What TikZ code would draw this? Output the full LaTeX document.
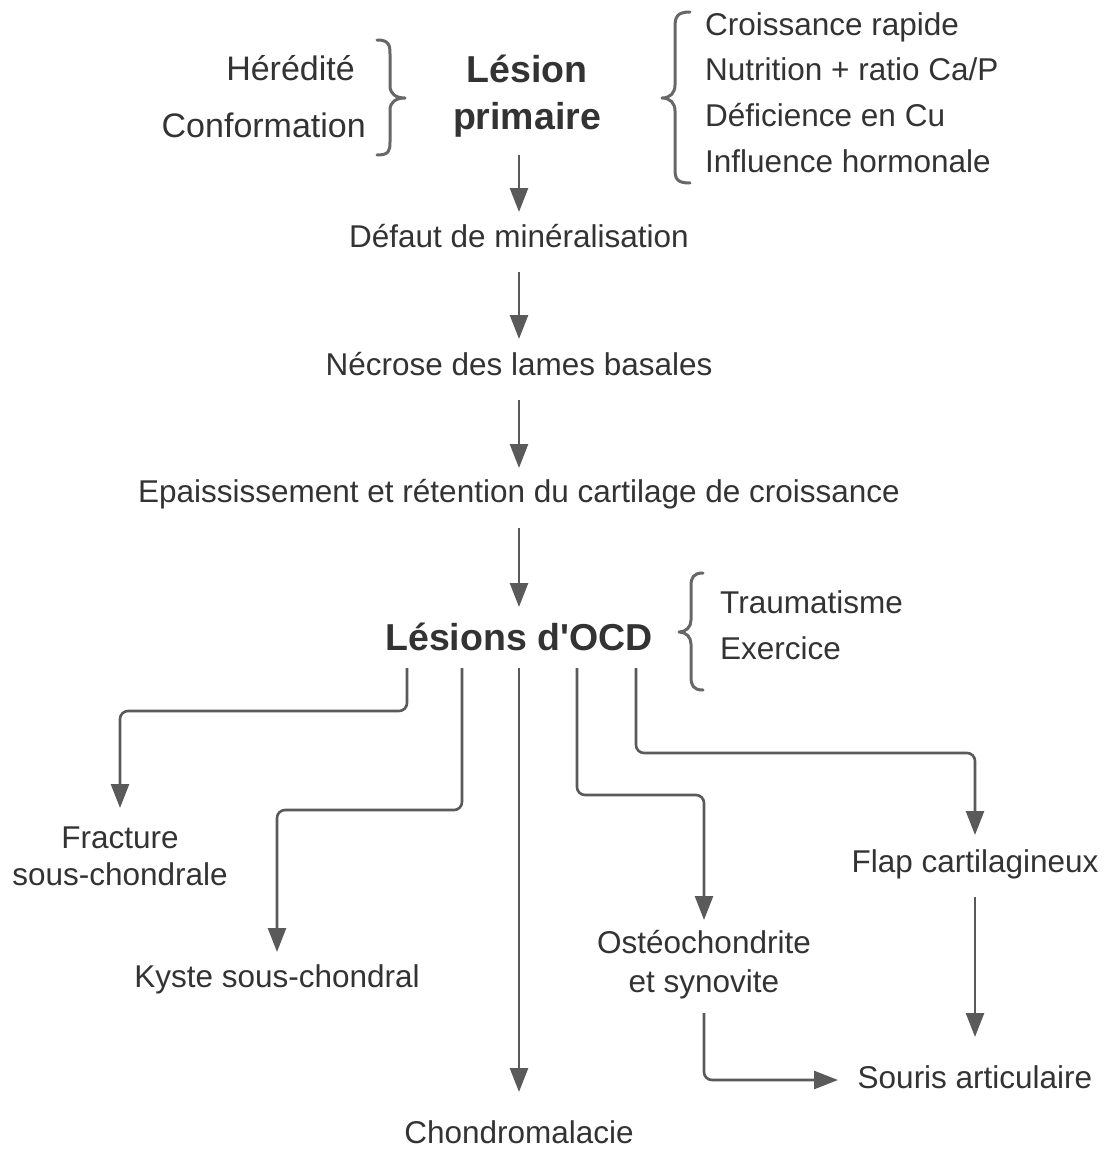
\documentclass[tikz,border=0pt]{standalone}
\usepackage{fontspec}
\setmainfont{Liberation Sans}[Ligatures=TeXOff]
\usetikzlibrary{arrows.meta,calc}
\definecolor{txtc}{HTML}{333333}
\definecolor{linec}{HTML}{5A5A5A}
\definecolor{bracec}{HTML}{676767}
\newcommand{\mlc}[1]{\begin{tabular}[t]{@{}c@{}}#1\end{tabular}}
\newcommand{\mll}[1]{\begin{tabular}[t]{@{}l@{}}#1\end{tabular}}
\tikzset{
  txt/.style={inner sep=0pt, text=txtc, font=\fontsize{31.5}{38}\selectfont},
  bigtxt/.style={inner sep=0pt, text=txtc, font=\fontsize{34}{40}\selectfont},
  boldtxt/.style={inner sep=0pt, text=txtc, font=\fontsize{37.5}{47}\selectfont\bfseries},
  arr/.style={draw=linec, line width=2.6pt, rounded corners=8pt, -{Triangle[length=24pt,width=18pt]}},
  bracestyle/.style={draw=bracec, line width=3pt, line cap=round, line join=round}
}
\begin{document}
\begin{tikzpicture}[x=1pt,y=-1pt]
\useasboundingbox (0,0) rectangle (1105,1149);
\fill[white] (0,0) rectangle (1105,1149);

% text nodes
\node[bigtxt, anchor=base east] (hered) at (355,80) {Hérédité};
\node[bigtxt, anchor=base east] (conf) at (366,137) {Conformation};
\node[boldtxt, anchor=base] (lesion) at (527,82) {\mlc{Lésion\\primaire}};
\node[txt, font=\fontsize{31.5}{45.67}\selectfont, anchor=base west] (facts) at (705,35)
  {\mll{Croissance rapide\\Nutrition + ratio Ca/P\\Déficience en Cu\\Influence hormonale}};
\node[txt, anchor=base] (defaut) at (519,247) {Défaut de minéralisation};
\node[txt, anchor=base] (necrose) at (519,375) {Nécrose des lames basales};
\node[txt, anchor=base] (epais) at (519,502) {Epaississement et rétention du cartilage de croissance};
\node[boldtxt, anchor=base] (ocd) at (519,650) {Lésions d'OCD};
\node[txt, font=\fontsize{31.5}{46}\selectfont, anchor=base west] (trauma) at (720,613) {\mll{Traumatisme\\Exercice}};
\node[txt, font=\fontsize{31.5}{37}\selectfont, anchor=base] (frac) at (120,848) {\mlc{Fracture\\sous-chondrale}};
\node[txt, anchor=base] (kyste) at (277,987) {Kyste sous-chondral};
\node[txt, anchor=base] (chondro) at (519,1143) {Chondromalacie};
\node[txt, font=\fontsize{31.5}{39}\selectfont, anchor=base] (osteo) at (704,953) {\mlc{Ostéochondrite\\et synovite}};
\node[txt, anchor=base] (flap) at (975,872) {Flap cartilagineux};
\node[txt, anchor=base] (souris) at (975,1088) {Souris articulaire};

% braces
\draw[bracestyle] (377,40) .. controls (389,40) and (390,45) .. (390,54) -- (390,86)
  .. controls (390,94) and (396,98) .. (405,98)
  .. controls (396,98) and (390,102) .. (390,110) -- (390,142)
  .. controls (390,151) and (389,155) .. (377,155);
\draw[bracestyle] (690,12) .. controls (677,12) and (675,17) .. (675,27) -- (675,85)
  .. controls (675,93) and (670,98) .. (662,98)
  .. controls (670,98) and (675,103) .. (675,111) -- (675,169)
  .. controls (675,179) and (677,183) .. (690,183);
\draw[bracestyle] (703,573) .. controls (693,573) and (691,578) .. (691,586) -- (691,620)
  .. controls (691,627) and (686,632) .. (679,632)
  .. controls (686,632) and (691,637) .. (691,644) -- (691,677)
  .. controls (691,685) and (693,690) .. (703,690);

% main chain
\draw[arr] ($(lesion.base)+(-8,73)$) -- ($(defaut.base)+(0,-35)$);
\draw[arr] ($(defaut.base)+(0,25)$) -- ($(necrose.base)+(0,-36)$);
\draw[arr] ($(necrose.base)+(0,25)$) -- ($(epais.base)+(0,-34)$);
\draw[arr] ($(epais.base)+(0,26)$) -- ($(ocd.base)+(0,-43)$);

% branches
\draw[arr] ($(ocd.base)+(-112,18)$) |- ($(frac.base)+(0,-137)$) -- ($(frac.base)+(0,-40)$);
\draw[arr] ($(ocd.base)+(-57,18)$) |- ($(kyste.base)+(0,-177)$) -- ($(kyste.base)+(0,-35)$);
\draw[arr] ($(ocd.base)+(0,18)$) -- ($(chondro.base)+(0,-51)$);
\draw[arr] ($(ocd.base)+(58,18)$) |- ($(osteo.base)+(0,-158)$) -- ($(osteo.base)+(0,-33)$);
\draw[arr] ($(ocd.base)+(117,18)$) |- ($(flap.base)+(0,-119)$) -- ($(flap.base)+(0,-37)$);
\draw[arr] ($(flap.base)+(0,25)$) -- ($(souris.base)+(0,-51)$);
\draw[arr] ($(osteo.base)+(0,60)$) |- ($(souris.base)+(-137,-8)$);
\end{tikzpicture}
\end{document}
